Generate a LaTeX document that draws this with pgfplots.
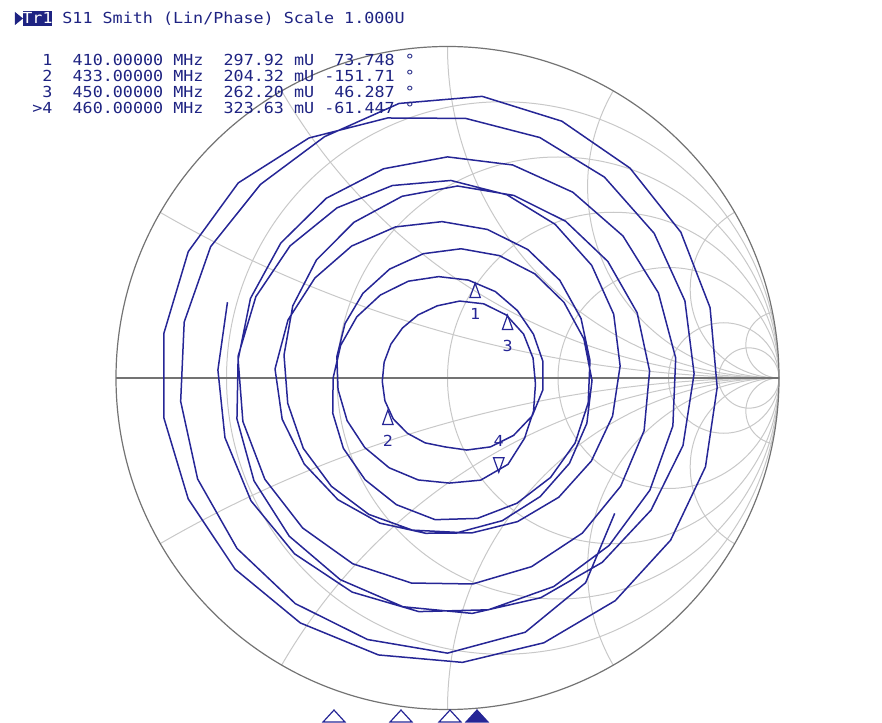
\documentclass[border=0pt]{standalone}
\usepackage{fontspec}
\usepackage{pgfplots}
\pgfplotsset{compat=1.18}
\usepgfplotslibrary{polar}
\newfontfamily\vnaf[FakeStretch=1.1]{DejaVu Sans Mono}
\newcommand{\vna}{\vnaf\fontsize{7.6pt}{9pt}\selectfont}
\definecolor{trace}{RGB}{38,38,150}
\definecolor{txt}{RGB}{30,35,130}
\definecolor{gridl}{RGB}{200,200,200}
\definecolor{gridd}{RGB}{115,115,115}
\newcommand{\pxy}[2]{(rel axis cs:{#1/882},{1-#2/722})}
\newcommand{\U}{165.75pt}
\begin{document}
\begin{tikzpicture}
\begin{axis}[width=441pt,height=361pt,scale only axis,
  xmin=-1.3499,xmax=1.3107,ymin=-1.0377,ymax=1.1403,
  hide axis, clip=false]
\path \pxy{0}{0} rectangle \pxy{882}{722};
% Smith grid
\begin{scope}
\clip (axis cs:0,0) circle[radius=\U];
\draw[gridl,line width=0.5pt] (axis cs:0.16667,0) circle[radius=0.83333*\U];
\draw[gridl,line width=0.5pt] (axis cs:0.33333,0) circle[radius=0.66667*\U];
\draw[gridl,line width=0.5pt] (axis cs:0.5,0) circle[radius=0.5*\U];
\draw[gridl,line width=0.5pt] (axis cs:0.66667,0) circle[radius=0.33333*\U];
\draw[gridl,line width=0.5pt] (axis cs:0.83333,0) circle[radius=0.16667*\U];
\draw[gridl,line width=0.5pt] (axis cs:0.90909,0) circle[radius=0.09091*\U];
\draw[gridl,line width=0.5pt] (axis cs:1,3.732) circle[radius=3.732*\U];
\draw[gridl,line width=0.5pt] (axis cs:1,-3.732) circle[radius=3.732*\U];
\draw[gridl,line width=0.5pt] (axis cs:1,1.732) circle[radius=1.732*\U];
\draw[gridl,line width=0.5pt] (axis cs:1,-1.732) circle[radius=1.732*\U];
\draw[gridl,line width=0.5pt] (axis cs:1,1) circle[radius=1*\U];
\draw[gridl,line width=0.5pt] (axis cs:1,-1) circle[radius=1*\U];
\draw[gridl,line width=0.5pt] (axis cs:1,0.5774) circle[radius=0.5774*\U];
\draw[gridl,line width=0.5pt] (axis cs:1,-0.5774) circle[radius=0.5774*\U];
\draw[gridl,line width=0.5pt] (axis cs:1,0.2679) circle[radius=0.2679*\U];
\draw[gridl,line width=0.5pt] (axis cs:1,-0.2679) circle[radius=0.2679*\U];
\draw[gridl,line width=0.5pt] (axis cs:1,0.1) circle[radius=0.1*\U];
\draw[gridl,line width=0.5pt] (axis cs:1,-0.1) circle[radius=0.1*\U];
\end{scope}
\draw[gridd,line width=0.6pt] (axis cs:0,0) circle[radius=\U];
\draw[gridd,line width=0.6pt] (axis cs:-1,0) -- (axis cs:1,0);
% trace (angle in degrees, linear magnitude)
\addplot[trace,line width=0.75pt,data cs=polar,mark=none] coordinates {
(-39,0.649) (-56,0.745) (-73,0.802) (-90,0.830) (-107,0.825) (-124,0.821) (-141,0.817) (-158,0.813) (-175,0.808) (168,0.812)
(151,0.817) (134,0.812) (117,0.817) (100,0.841) (83,0.856) (66,0.848) (49,0.839) (32,0.830) (15,0.820) (-2,0.814)
(-19,0.823) (-36,0.832) (-53,0.841) (-70,0.850) (-87,0.859) (-104,0.861) (-121,0.862) (-138,0.862) (-155,0.863) (-172,0.864)
(171,0.866) (154,0.870) (137,0.863) (120,0.836) (103,0.805) (86,0.785) (69,0.777) (52,0.769) (35,0.761) (18,0.753)
(1,0.744) (-16,0.739) (-33,0.732) (-50,0.726) (-67,0.720) (-84,0.714) (-101,0.703) (-118,0.689) (-135,0.675) (-152,0.661)
(-169,0.647) (174,0.635) (157,0.628) (140,0.620) (123,0.612) (106,0.604) (89,0.596) (72,0.581) (55,0.566) (38,0.552)
(21,0.537) (4,0.522) (-13,0.511) (-30,0.501) (-47,0.492) (-64,0.482) (-81,0.473) (-98,0.473) (-115,0.483) (-132,0.494)
(-149,0.504) (-166,0.514) (177,0.521) (160,0.512) (143,0.501) (126,0.492) (109,0.482) (92,0.472) (75,0.464) (58,0.457)
(41,0.449) (24,0.441) (7,0.433) (-10,0.431) (-27,0.432) (-44,0.432) (-61,0.432) (-78,0.433) (-95,0.429) (-112,0.412)
(-129,0.395) (-146,0.379) (-163,0.362) (180,0.345) (163,0.337) (146,0.330) (129,0.322) (112,0.315) (95,0.307) (78,0.302)
(61,0.298) (44,0.293) (27,0.291) (10,0.292) (-7,0.290) (-24,0.280) (-41,0.264) (-58,0.245) (-75,0.225) (-92,0.208)
(-109,0.207) (-126,0.206) (-143,0.205) (-160,0.201) (-177,0.197) (166,0.197) (149,0.199) (132,0.203) (115,0.210) (98,0.220)
(81,0.235) (64,0.249) (47,0.260) (30,0.265) (13,0.265) (-4,0.266) (-21,0.278) (-38,0.295) (-55,0.318) (-72,0.324)
(-89,0.317) (-106,0.320) (-123,0.323) (-140,0.326) (-157,0.329) (-174,0.332) (169,0.340) (152,0.350) (135,0.361) (118,0.372)
(101,0.382) (84,0.392) (67,0.401) (50,0.410) (33,0.419) (16,0.428) (-1,0.436) (-18,0.442) (-35,0.449) (-52,0.454)
(-69,0.461) (-86,0.467) (-103,0.471) (-120,0.475) (-137,0.479) (-154,0.484) (-171,0.488) (172,0.498) (155,0.515) (138,0.532)
(121,0.548) (104,0.565) (87,0.580) (70,0.586) (53,0.592) (36,0.598) (19,0.605) (2,0.610) (-15,0.614) (-32,0.616)
(-49,0.620) (-66,0.623) (-83,0.626) (-100,0.628) (-117,0.629) (-134,0.629) (-151,0.630) (-168,0.631) (175,0.634) (158,0.641)
(141,0.647) (124,0.654) (107,0.660) (90,0.667) (73,0.672) (56,0.676) (39,0.681) (22,0.686) (5,0.691) (-12,0.695)
(-29,0.698) (-46,0.702) (-63,0.706) (-80,0.710) (-97,0.710) (-114,0.707) (-131,0.703) (-148,0.699) (-165,0.695) (178,0.693)
(161,0.702)
};
% markers
\addplot[only marks,data cs=polar,mark=triangle,mark size=3pt,color=trace,
  mark options={yshift=-4.8pt,yscale=1.6,line width=0.6pt},
  nodes near coords={1},every node near coord/.style={anchor=north,yshift=-7.6pt,font=\vna,text=trace,inner sep=0pt}]
  coordinates {(73.748,0.29792)};
\addplot[only marks,data cs=polar,mark=triangle,mark size=3pt,color=trace,
  mark options={yshift=-4.8pt,yscale=1.6,line width=0.6pt},
  nodes near coords={2},every node near coord/.style={anchor=north,yshift=-7.6pt,font=\vna,text=trace,inner sep=0pt}]
  coordinates {(-151.71,0.20432)};
\addplot[only marks,data cs=polar,mark=triangle,mark size=3pt,color=trace,
  mark options={yshift=-4.8pt,yscale=1.6,line width=0.6pt},
  nodes near coords={3},every node near coord/.style={anchor=north,yshift=-7.6pt,font=\vna,text=trace,inner sep=0pt}]
  coordinates {(46.287,0.26220)};
\addplot[only marks,data cs=polar,mark=triangle,mark size=3pt,color=trace,
  mark options={yshift=4.8pt,yscale=1.6,rotate=180,line width=0.6pt},
  nodes near coords={4},every node near coord/.style={anchor=south,yshift=7.6pt,font=\vna,text=trace,inner sep=0pt}]
  coordinates {(-61.447,0.32363)};
% stimulus marker triangles at bottom
\addplot[only marks,mark=triangle,mark size=6.3pt,color=trace,mark options={yscale=0.63,line width=0.6pt}]
  coordinates {(-0.3424,-1.0256) (-0.1403,-1.0256) (0.0075,-1.0256)};
\addplot[only marks,mark=triangle*,mark size=6.3pt,color=trace,mark options={yscale=0.63,line width=0.6pt,fill=trace}]
  coordinates {(0.0890,-1.0256)};
% header
\fill[txt] \pxy{15}{12} -- \pxy{15}{25} -- \pxy{23}{18.5} -- cycle;
\fill[txt] \pxy{23}{11} rectangle \pxy{52}{26};
\node[anchor=base,inner sep=0pt,font=\vna,text=white] at \pxy{37.5}{23.5} {Tr1};
\node[anchor=base west,inner sep=0pt,font=\vna,text=txt] at \pxy{62}{23.5} {S11~Smith~(Lin/Phase)~Scale~1.000U};
\node[anchor=base west,inner sep=0pt,font=\vna,text=txt] at \pxy{32}{65.5} {~1~~410.00000~MHz~~297.92~mU~~73.748~°};
\node[anchor=base west,inner sep=0pt,font=\vna,text=txt] at \pxy{32}{81.5} {~2~~433.00000~MHz~~204.32~mU~-151.71~°};
\node[anchor=base west,inner sep=0pt,font=\vna,text=txt] at \pxy{32}{97.5} {~3~~450.00000~MHz~~262.20~mU~~46.287~°};
\node[anchor=base west,inner sep=0pt,font=\vna,text=txt] at \pxy{32}{113.5} {>4~~460.00000~MHz~~323.63~mU~-61.447~°};
\end{axis}
\end{tikzpicture}
\end{document}
